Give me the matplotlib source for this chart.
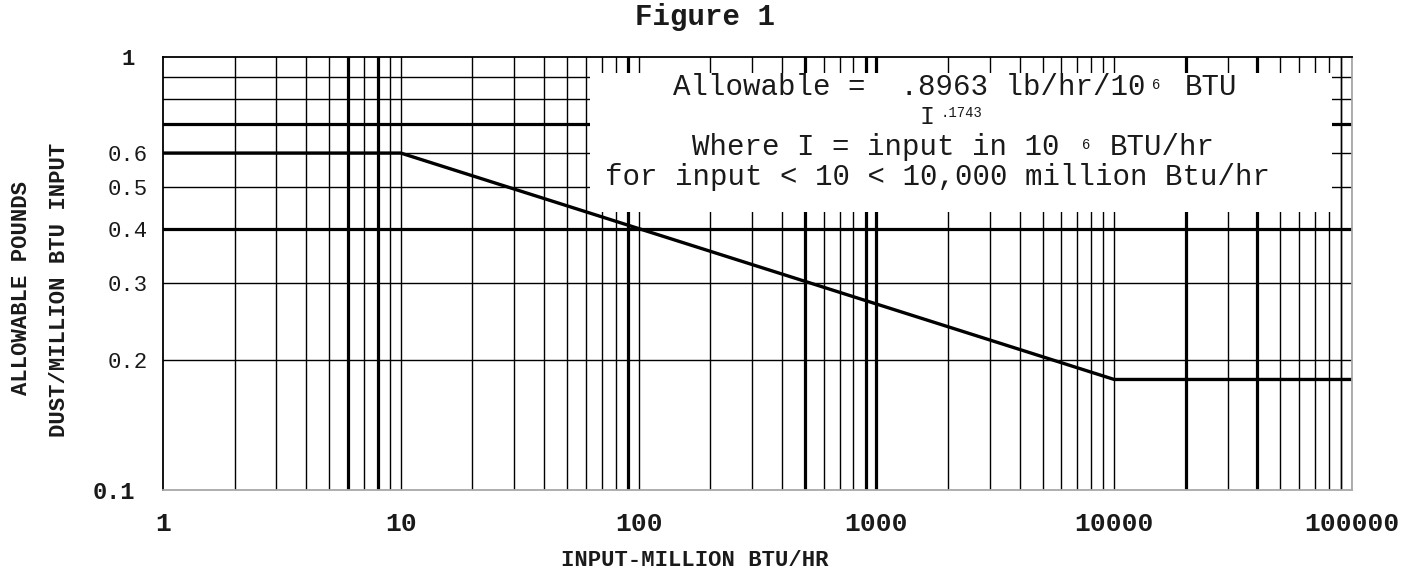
import matplotlib
matplotlib.use("Agg")
import matplotlib.pyplot as plt
import matplotlib.transforms as mtransforms
from matplotlib.patches import Rectangle

# ---------------- data ----------------
curve_x = [1, 10, 10000, 100000]
curve_y = [0.6, 0.6, 0.18, 0.18]

x_ticks = [1, 10, 100, 1000, 10000, 100000]
x_tick_labels = ["1", "10", "100", "1000", "10000", "100000"]
y_ticks = [0.1, 0.2, 0.3, 0.4, 0.5, 0.6, 1]
y_tick_labels = ["0.1", "0.2", "0.3", "0.4", "0.5", "0.6", "1"]

v_grid = [k * 10 ** d for d in range(5) for k in range(2, 11)]
v_grid_thick = [6, 8, 90, 500, 900, 1000, 20000, 40000]
h_grid = [0.2, 0.3, 0.4, 0.5, 0.6, 0.7, 0.8, 0.9]
h_grid_thick = [0.4, 0.7]

title = "Figure 1"
x_label = "INPUT-MILLION BTU/HR"
y_label_1 = "ALLOWABLE POUNDS"
y_label_2 = "DUST/MILLION BTU INPUT"
box_line1 = "Allowable =  .8963 lb/hr/10"
box_sup1 = "6"
box_line1b = "BTU"
box_line2 = "I"
box_sup2 = ".1743"
box_line3 = "Where I = input in 10"
box_sup3 = "6"
box_line3b = "BTU/hr"
box_line4 = "for input < 10 < 10,000 million Btu/hr"

MONO = ["Liberation Mono", "DejaVu Sans Mono"]
INK = "#1a1a1a"

# ---------------- figure ----------------
W, H = 1402, 572
fig = plt.figure(figsize=(W / 100, H / 100), dpi=100)
fig.patch.set_facecolor("white")
ax = fig.add_axes([163 / W, 1 - 490 / H, (1352 - 163) / W, (490 - 57) / H])
ax.set_xscale("log")
ax.set_yscale("log")
ax.set_xlim(1, 100000)
ax.set_ylim(0.1, 1)

# grid
for xv in v_grid:
    lw = 2.3 if xv in v_grid_thick else 1.0
    ax.axvline(xv, color="black", lw=lw, zorder=1)
for yv in h_grid:
    lw = 2.3 if yv in h_grid_thick else 1.0
    ax.axhline(yv, color="black", lw=lw, zorder=1)

# white box for the formula
ax.add_patch(Rectangle((0.359, 0.642), 0.624, 0.321, transform=ax.transAxes,
                       facecolor="white", edgecolor="none", zorder=2))
# the 90000 line runs through the box
ax.axvline(90000, color="black", lw=1.0, zorder=2.5)

# curve
ax.plot(curve_x, curve_y, color="black", lw=2.4, zorder=4, solid_capstyle="butt")

# spines
for s in ["left", "top"]:
    ax.spines[s].set_color("black")
    ax.spines[s].set_linewidth(1.3)
for s in ["bottom", "right"]:
    ax.spines[s].set_color("#a8a8a8")
    ax.spines[s].set_linewidth(1.3)
for s in ax.spines.values():
    s.set_zorder(5)

# ticks
ax.minorticks_off()
ax.set_xticks(x_ticks)
ax.set_xticklabels(x_tick_labels, fontfamily=MONO, fontweight="bold",
                   fontsize=19, color=INK)
ax.set_yticks(y_ticks)
ax.set_yticklabels(y_tick_labels, fontfamily=MONO, fontsize=16, color=INK)
ax.tick_params(axis="x", length=0, pad=16)
ax.tick_params(axis="y", length=0, pad=11)
for lab in ax.get_yticklabels():
    if lab.get_text() in ("0.1", "1"):
        lab.set_transform(lab.get_transform() +
                          mtransforms.ScaledTranslation(-13 / 100, 0, fig.dpi_scale_trans))
        lab.set_fontweight("bold")
        if lab.get_text() == "0.1":
            lab.set_fontsize(17)

# formula text
def ptext(x, y, s, **kw):
    fig.text(x / W, 1 - y / H, s, fontfamily=MONO, color=INK, **kw)

fs = 21
ptext(673, 87, box_line1, fontsize=fs, ha="left", va="center")
ptext(1152, 85, box_sup1, fontsize=10, ha="left", va="center")
ptext(1185, 87, box_line1b, fontsize=fs, ha="left", va="center")
ptext(920, 117, box_line2, fontsize=fs - 3, ha="left", va="center")
ptext(941, 113, box_sup2, fontsize=10, ha="left", va="center")
ptext(692, 147, box_line3, fontsize=fs, ha="left", va="center")
ptext(1082, 145, box_sup3, fontsize=10, ha="left", va="center")
ptext(1110, 147, box_line3b, fontsize=fs, ha="left", va="center")
ptext(605, 177, box_line4, fontsize=fs, ha="left", va="center")

# titles / labels
fig.text(705 / W, 1 - 17 / H, title, fontfamily=MONO, fontweight="bold",
         fontsize=21, ha="center", va="center", color=INK)
fig.text(695 / W, 1 - 560 / H, x_label, fontfamily=MONO, fontweight="bold",
         fontsize=16, ha="center", va="center", color=INK)
fig.text(22 / W, 1 - 288 / H, y_label_1, fontfamily=MONO, fontweight="bold",
         fontsize=16, ha="center", va="center", rotation=90, color=INK)
fig.text(60 / W, 1 - 290 / H, y_label_2, fontfamily=MONO, fontweight="bold",
         fontsize=16, ha="center", va="center", rotation=90, color=INK)

fig.savefig("out.png", dpi=100, facecolor="white")
